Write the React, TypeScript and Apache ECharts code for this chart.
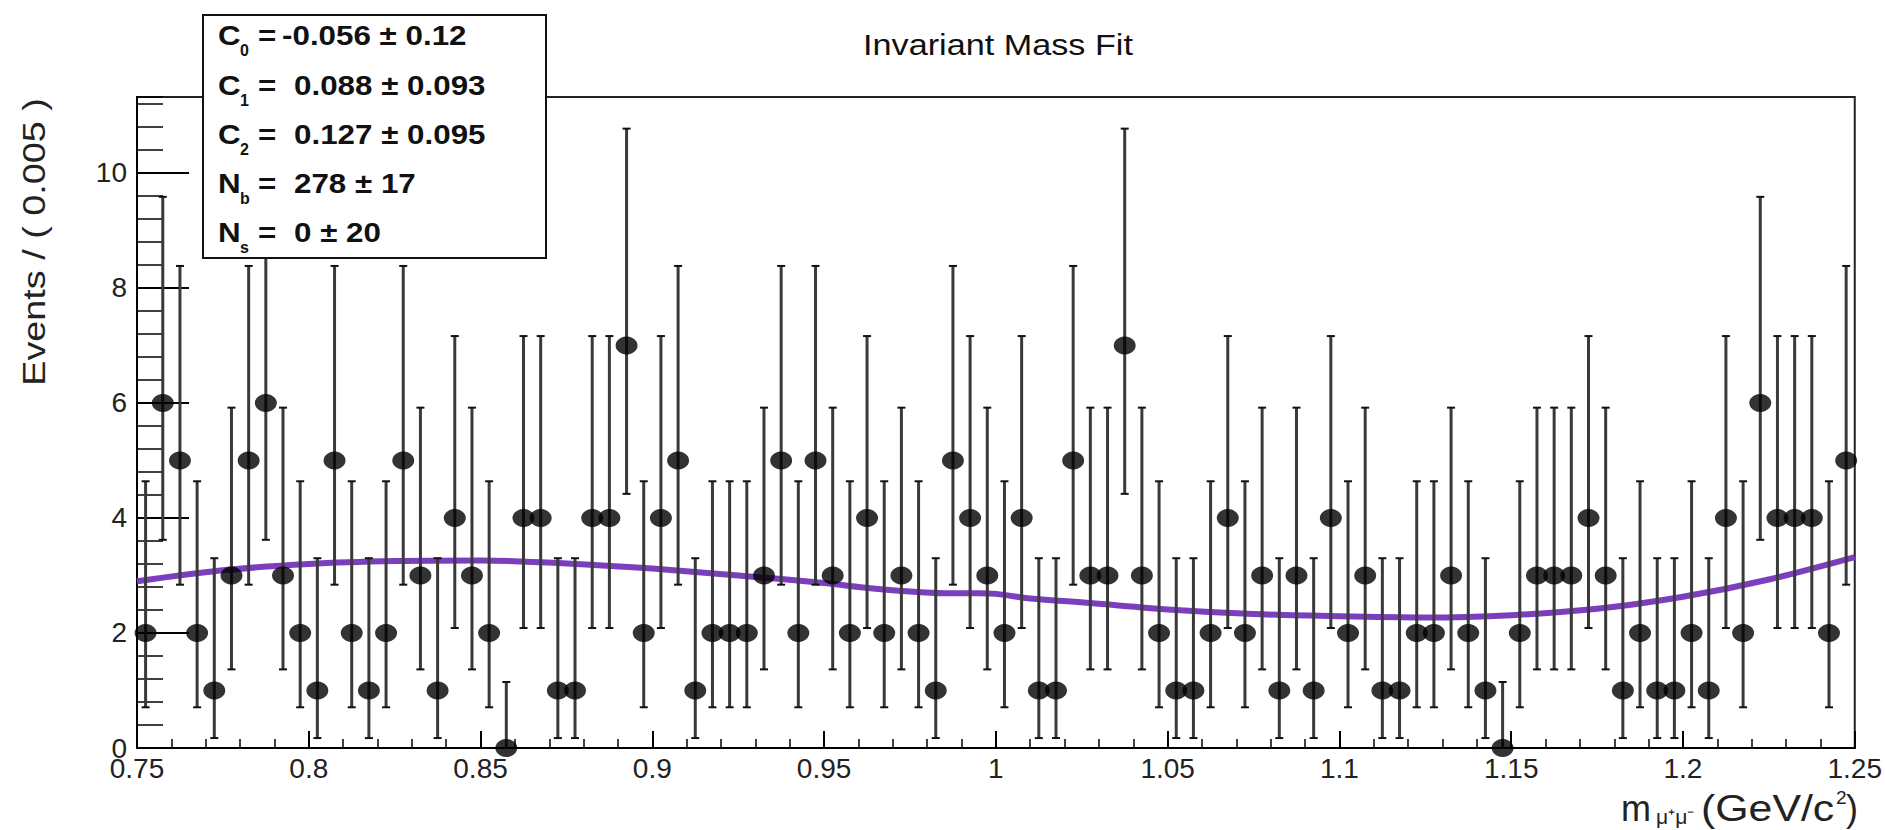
import React, { useEffect, useRef } from "react";
import * as echarts from "echarts";

// ---- data ----
const histLow = 0.75;
const binWidth = 0.005;
const counts = [
  2, 6, 5, 2, 1, 3, 5, 6, 3, 2,
  1, 5, 2, 1, 2, 5, 3, 1, 4, 3,
  2, 0, 4, 4, 1, 1, 4, 4, 7, 2,
  4, 5, 1, 2, 2, 2, 3, 5, 2, 5,
  3, 2, 4, 2, 3, 2, 1, 5, 4, 3,
  2, 4, 1, 1, 5, 3, 3, 7, 3, 2,
  1, 1, 2, 4, 2, 3, 1, 3, 1, 4,
  2, 3, 1, 1, 2, 2, 3, 2, 1, 0,
  2, 3, 3, 3, 4, 3, 1, 2, 1, 1,
  2, 1, 4, 2, 6, 4, 4, 4, 2, 5,
];
// Poisson error bars, indexed by count
const errDown = [0, 0.827, 1.292, 1.633, 1.914, 2.16, 2.38, 2.581];
const errUp = [1.148, 2.3, 2.638, 2.918, 3.163, 3.382, 3.584, 3.77];

// fitted curve
const curveX = [0.75, 0.775, 0.8, 0.825, 0.85, 0.875, 0.9, 0.925, 0.95, 0.96, 0.975, 0.985, 0.995, 1.0, 1.005, 1.01, 1.0275, 1.05, 1.075, 1.1, 1.125, 1.15, 1.175, 1.2, 1.225, 1.25];
const curveY = [2.9, 3.09, 3.2, 3.25, 3.26, 3.21, 3.12, 3.0, 2.87, 2.8, 2.72, 2.69, 2.69, 2.68, 2.64, 2.6, 2.52, 2.41, 2.33, 2.29, 2.27, 2.31, 2.42, 2.63, 2.93, 3.32];

// fit parameters box
const paramNames = ["C", "C", "C", "N", "N"];
const paramSubs = ["0", "1", "2", "b", "s"];
const paramValues = ["-0.056 ± 0.12", "0.088 ± 0.093", "0.127 ± 0.095", "278 ± 17", "0 ± 20"];

const chartTitle = "Invariant Mass Fit";
const yTitle = "Events / ( 0.005 )";

const FONT = '"Liberation Sans", Arial, Helvetica, sans-serif';

export default function App() {
  const ref = useRef<HTMLDivElement>(null);

  useEffect(() => {
    if (!ref.current) return;
    const chart = echarts.init(ref.current, undefined, { renderer: "svg" });

    const points = counts.map((n, i) => [histLow + binWidth * (i + 0.5), n]);
    const bars = counts.map((n, i) => [histLow + binWidth * (i + 0.5), n - errDown[n], n + errUp[n]]);
    const curve = curveX.map((x, i) => [x, curveY[i]]);

    const lineYs = [35, 85, 134, 183, 232];
    const valueXs = [282, 294, 294, 294, 294];
    const graphic: any[] = [
      {
        type: "rect",
        z: 100,
        shape: { x: 203, y: 15, width: 343, height: 243 },
        style: { fill: "#fff", stroke: "#111", lineWidth: 2 },
      },
    ];
    paramNames.forEach((nm, i) => {
      const y = lineYs[i];
      graphic.push({
        type: "text", z: 101, x: 218, y, scaleX: 1.12,
        style: { text: nm, font: `bold 28px ${FONT}`, fill: "#111", align: "left", verticalAlign: "middle", textAlign: "left", textVerticalAlign: "middle" },
      });
      graphic.push({
        type: "text", z: 101, x: 240, y: y + 15,
        style: { text: paramSubs[i], font: `bold 16px ${FONT}`, fill: "#111", align: "left", verticalAlign: "middle", textAlign: "left", textVerticalAlign: "middle" },
      });
      graphic.push({
        type: "text", z: 101, x: 258, y, scaleX: 1.12,
        style: { text: "=", font: `bold 28px ${FONT}`, fill: "#111", align: "left", verticalAlign: "middle", textAlign: "left", textVerticalAlign: "middle" },
      });
      graphic.push({
        type: "text", z: 101, x: valueXs[i], y, scaleX: 1.12,
        style: { text: paramValues[i], font: `bold 28px ${FONT}`, fill: "#111", align: "left", verticalAlign: "middle", textAlign: "left", textVerticalAlign: "middle" },
      });
    });
    // title
    graphic.push({
      type: "text", z: 101, x: 998, y: 45, scaleX: 1.14,
      style: { text: chartTitle, font: `30px ${FONT}`, fill: "#111", align: "center", verticalAlign: "middle", textAlign: "center", textVerticalAlign: "middle" },
    });
    // y axis title
    graphic.push({
      type: "text", z: 101, x: 34, y: 242, rotation: Math.PI / 2, scaleX: 1.18,
      style: { text: yTitle, font: `32px ${FONT}`, fill: "#222", align: "center", verticalAlign: "middle", textAlign: "center", textVerticalAlign: "middle" },
    });
    // x axis title pieces
    const xt = [
      { t: "m", x: 1621, y: 808, f: 36, s: 1 },
      { t: "μ⁺μ⁻", x: 1656, y: 817, f: 20, s: 1.05 },
      { t: "(GeV/c", x: 1701, y: 808, f: 36, s: 1.19 },
      { t: "2", x: 1836, y: 797, f: 19, s: 1 },
      { t: ")", x: 1846, y: 808, f: 36, s: 1 },
    ];
    xt.forEach((p) => {
      graphic.push({
        type: "text", z: 101, x: p.x, y: p.y, scaleX: p.s,
        style: { text: p.t, font: `${p.f}px ${FONT}`, fill: "#222", align: "left", verticalAlign: "middle", textAlign: "left", textVerticalAlign: "middle" },
      });
    });

    const option: any = {
      animation: false,
      backgroundColor: "#fff",
      grid: {
        left: 137, right: 29, top: 97, bottom: 82,
        show: true, borderColor: "#222", borderWidth: 2, backgroundColor: "transparent",
      },
      xAxis: {
        type: "value",
        min: 0.75,
        max: 1.25,
        interval: 0.05,
        axisLine: { show: true, onZero: false, lineStyle: { color: "#000", width: 2 } },
        axisTick: { show: true, inside: true, length: 17, lineStyle: { color: "#000", width: 2 } },
        minorTick: { show: true, splitNumber: 5, length: 9, lineStyle: { color: "#000", width: 1.5 } },
        splitLine: { show: false },
        minorSplitLine: { show: false },
        axisLabel: {
          fontSize: 28, fontFamily: FONT, color: "#222", margin: 6,
          formatter: (v: number) => String(+v.toFixed(3)),
        },
      },
      yAxis: [
        {
          type: "value",
          min: 0,
          max: 11.32,
          interval: 2,
          position: "left",
          axisLine: { show: true, onZero: false, lineStyle: { color: "#000", width: 2 } },
          axisTick: { show: true, inside: true, length: 52, lineStyle: { color: "#000", width: 2 } },
          splitLine: { show: false },
          axisLabel: {
            fontSize: 28, fontFamily: FONT, color: "#222", margin: 10, showMaxLabel: false,
            formatter: (v: number) => (v > 10.5 ? "" : String(+v.toFixed(2))),
          },
        },
        {
          type: "value",
          min: 0,
          max: 11.32,
          interval: 0.4,
          position: "left",
          offset: 0,
          axisLine: { show: false },
          axisTick: { show: true, inside: true, length: 26, lineStyle: { color: "#000", width: 1.5 } },
          axisLabel: { show: false },
          splitLine: { show: false },
        },
      ],
      series: [
        {
          type: "line",
          data: curve,
          showSymbol: false,
          smooth: 0.3,
          lineStyle: { color: "#7b3fbe", width: 6 },
          z: 1,
          silent: true,
        },
        {
          type: "custom",
          data: bars,
          encode: { x: 0, y: [1, 2] },
          z: 2,
          silent: true,
          renderItem: (params: any, api: any) => {
            const x = api.value(0);
            const top = api.coord([x, api.value(2)]);
            const bot = api.coord([x, api.value(1)]);
            return {
              type: "group",
              children: [
                { type: "line", shape: { x1: top[0], y1: top[1], x2: bot[0], y2: bot[1] }, style: { stroke: "#3a3a3a", lineWidth: 3 } },
                { type: "line", shape: { x1: top[0] - 4, y1: top[1], x2: top[0] + 4, y2: top[1] }, style: { stroke: "#111", lineWidth: 2 } },
                { type: "line", shape: { x1: bot[0] - 4, y1: bot[1], x2: bot[0] + 4, y2: bot[1] }, style: { stroke: "#111", lineWidth: 2 } },
              ],
            };
          },
        },
        {
          type: "scatter",
          data: points,
          symbol: "circle",
          symbolSize: [22, 18],
          itemStyle: { color: "#000" },
          clip: false,
          z: 3,
          silent: true,
        },
      ],
      graphic,
    };

    chart.setOption(option);
    return () => chart.dispose();
  }, []);

  return <div ref={ref} style={{ position: "fixed", left: 0, top: 0, width: 1885, height: 830 }} />;
}
